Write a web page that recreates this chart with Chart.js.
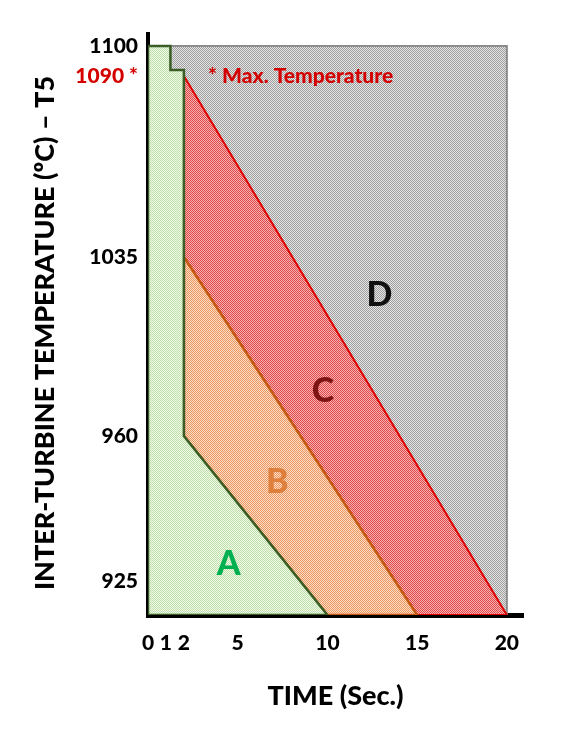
<!DOCTYPE html>
<html>
<head>
<meta charset="utf-8">
<script src="https://cdn.jsdelivr.net/npm/chart.js@4/dist/chart.umd.min.js"></script>
<style>
  html, body { margin: 0; padding: 0; background: #fff; }
  #wrap { width: 570px; height: 745px; }
</style>
</head>
<body>
<div id="wrap"><canvas id="itt" width="570" height="745"></canvas></div>
<script>
// Regions of the chart (time in sec, temperature in °C)
const timeA = [0, 0, 1.25, 1.25, 2, 2, 10, 0];
const tempA = [910, 1100, 1100, 1092, 1092, 960, 910, 910];
const timeB = [2, 15, 10, 2, 2];
const tempB = [1035, 910, 910, 960, 1035];
const timeC = [2, 20, 15, 2, 2];
const tempC = [1090, 910, 910, 1035, 1090];
const timeD = [0, 20, 20, 0, 0];
const tempD = [1100, 1100, 910, 910, 1100];

// Tick labels
const timeTicks = [0, 1, 2, 5, 10, 15, 20];
const tempTicks = [925, 960, 1035, 1090, 1100];
const maxTemp = 1090;

// Letters in the regions
const regionNames = ['A', 'B', 'C', 'D'];
const regionNameTime = [4.5, 7.2, 9.75, 12.9];
const regionNameTemp = [929, 949, 979, 1019];

// the temperature axis is not linear, it's stretched between the marked values
const yScaleTemps = [910, 925, 960, 1035, 1090, 1100, 1104];
const yScalePlaces = [0, 0.0585, 0.3081, 0.6162, 0.9277, 0.9793, 1];

class PiecewiseScale extends Chart.LinearScale {
    getPixelForValue(value) {
        let i = 1;
        while (i < yScaleTemps.length - 1 && value > yScaleTemps[i]) i++;
        const t0 = yScaleTemps[i - 1], t1 = yScaleTemps[i];
        const p0 = yScalePlaces[i - 1], p1 = yScalePlaces[i];
        return this.getPixelForDecimal(p0 + (value - t0) / (t1 - t0) * (p1 - p0));
    }
    getValueForPixel(pixel) {
        const dec = this.getDecimalForPixel(pixel);
        let i = 1;
        while (i < yScalePlaces.length - 1 && dec > yScalePlaces[i]) i++;
        const t0 = yScaleTemps[i - 1], t1 = yScaleTemps[i];
        const p0 = yScalePlaces[i - 1], p1 = yScalePlaces[i];
        return t0 + (dec - p0) / (p1 - p0) * (t1 - t0);
    }
}
PiecewiseScale.id = 'piecewise';
PiecewiseScale.defaults = Chart.LinearScale.defaults;
Chart.register(PiecewiseScale);

// checkered fill like the original hatching
function checker(c1, c2) {
    const c = document.createElement('canvas');
    c.width = 2;
    c.height = 2;
    const g = c.getContext('2d');
    g.fillStyle = c2;
    g.fillRect(0, 0, 2, 2);
    g.fillStyle = c1;
    g.fillRect(0, 0, 1, 1);
    g.fillRect(1, 1, 1, 1);
    return g.createPattern(c, 'repeat');
}

function points(xs, ys) {
    return xs.map((x, i) => ({ x: x, y: ys[i] }));
}

const fontFamily = 'Lato, "DejaVu Sans", sans-serif';
Chart.defaults.font.family = fontFamily;

// letters in the regions, max temperature note and the vertical title
const regionLabels = {
    id: 'regionLabels',
    afterDatasetsDraw(chart) {
        const ctx = chart.ctx;
        const x = chart.scales.x;
        const y = chart.scales.y;
        const colors = ['#00b050', '#de7f3c', '#7e1414', '#111111'];
        ctx.save();
        ctx.textAlign = 'center';
        ctx.textBaseline = 'middle';
        ctx.font = '900 34px ' + fontFamily;
        regionNames.forEach((n, i) => {
            ctx.fillStyle = colors[i];
            ctx.fillText(n, x.getPixelForValue(regionNameTime[i]), y.getPixelForValue(regionNameTemp[i]));
        });
        ctx.textAlign = 'left';
        ctx.font = '900 21px ' + fontFamily;
        ctx.fillStyle = '#d40000';
        ctx.fillText('* Max. Temperature', x.getPixelForValue(3.35), y.getPixelForValue(maxTemp));

        // Trục Y title
        ctx.translate(45, 333);
        ctx.rotate(-Math.PI / 2);
        ctx.textAlign = 'center';
        ctx.fillStyle = '#000';
        ctx.font = '900 27px ' + fontFamily;
        ctx.fillText('INTER-TURBINE TEMPERATURE (ºC) – T5', 0, 0);
        ctx.restore();
    }
};

const ctx = document.getElementById('itt').getContext('2d');
new Chart(ctx, {
    type: 'scatter',
    data: {
        datasets: [
            {
                label: 'A',
                data: points(timeA, tempA),
                backgroundColor: checker('#bfe0a8', '#f0f8ea'),
                borderColor: '#3a5e25',
                borderWidth: 2.5
            },
            {
                label: 'B',
                data: points(timeB, tempB),
                backgroundColor: checker('#ec9660', '#fbdcc6'),
                borderColor: '#c55a11',
                borderWidth: 2.5
            },
            {
                label: 'C',
                data: points(timeC, tempC),
                backgroundColor: checker('#e04646', '#f6b4b4'),
                borderColor: '#e00000',
                borderWidth: 2
            },
            {
                label: 'D',
                data: points(timeD, tempD),
                backgroundColor: checker('#9e9e9e', '#e6e6e6'),
                borderColor: '#8c8c8c',
                borderWidth: 2
            }
        ]
    },
    options: {
        responsive: false,
        animation: false,
        showLine: true,
        datasets: {
            scatter: {
                fill: 'shape',
                pointRadius: 0,
                pointHoverRadius: 0,
                tension: 0,
                borderJoinStyle: 'miter'
            }
        },
        layout: { padding: { top: 34, right: 47, left: 0, bottom: 0 } },
        plugins: {
            legend: { display: false },
            tooltip: { enabled: false }
        },
        scales: {
            x: {
                type: 'linear',
                min: 0,
                max: 20.9,
                z: 1,
                grid: { display: false, drawTicks: false },
                border: { display: true, color: '#000', width: 5 },
                afterBuildTicks: (s) => { s.ticks = timeTicks.map(v => ({ value: v })); },
                afterFit: (s) => { s.height = 130; },
                ticks: {
                    autoSkip: false,
                    maxRotation: 0,
                    padding: 16,
                    color: '#000',
                    font: { size: 21, weight: '900' }
                },
                title: {
                    display: true,
                    text: 'TIME (Sec.)',
                    color: '#000',
                    font: { size: 27, weight: '900' },
                    padding: { top: 0, bottom: 33 }
                }
            },
            y: {
                type: 'piecewise',
                min: 910,
                max: 1104,
                z: 1,
                grid: { display: false, drawTicks: false },
                border: { display: true, color: '#000', width: 4 },
                afterBuildTicks: (s) => { s.ticks = tempTicks.map(v => ({ value: v })); },
                afterFit: (s) => { s.width = 148; },
                ticks: {
                    autoSkip: false,
                    padding: 10,
                    font: { size: 21, weight: '900' },
                    color: (c) => (c.tick && c.tick.value === maxTemp ? '#d40000' : '#000'),
                    callback: (v) => (v === maxTemp ? v + ' *' : String(v))
                }
            }
        }
    },
    plugins: [regionLabels]
});
</script>
</body>
</html>
